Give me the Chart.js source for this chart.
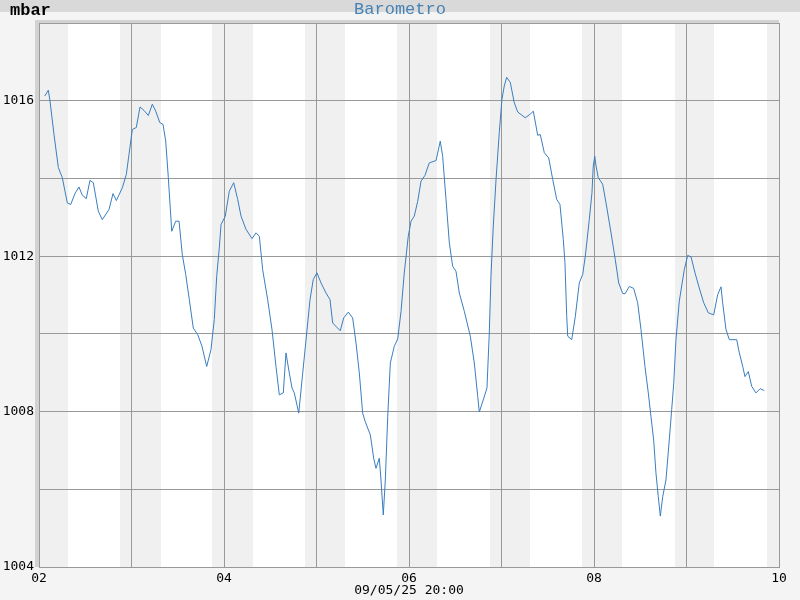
<!DOCTYPE html>
<html>
<head>
<meta charset="utf-8">
<script src="https://cdn.jsdelivr.net/npm/chart.js@4/dist/chart.umd.min.js"></script>
<style>
  html, body { margin: 0; padding: 0; background: #f4f4f4; }
  #wrap { width: 800px; height: 600px; }
</style>
</head>
<body>
<div id="wrap"><canvas id="chart" width="800" height="600"></canvas></div>
<script>
// Barometro - pressure over the week, x in days of the month
const title = "Barometro";
const unit = "mbar";
const stamp = "09/05/25 20:00";

const times = [
  2.062, 2.101, 2.119, 2.162, 2.209, 2.252, 2.281, 2.306, 2.343, 2.389,
  2.432, 2.468, 2.511, 2.551, 2.587, 2.641, 2.684, 2.757, 2.800, 2.836,
  2.901, 2.944, 2.973, 3.009, 3.052, 3.092, 3.135, 3.182, 3.225, 3.262,
  3.305, 3.341, 3.370, 3.398, 3.435, 3.478, 3.514, 3.549, 3.586, 3.625,
  3.668, 3.716, 3.762, 3.813, 3.859, 3.895, 3.921, 3.949, 3.968, 4.014,
  4.057, 4.105, 4.148, 4.184, 4.238, 4.303, 4.346, 4.382, 4.418, 4.472,
  4.519, 4.562, 4.598, 4.641, 4.670, 4.706, 4.735, 4.760, 4.808, 4.851,
  4.894, 4.930, 4.965, 5.005, 5.049, 5.103, 5.146, 5.175, 5.211, 5.257,
  5.294, 5.344, 5.391, 5.427, 5.463, 5.499, 5.527, 5.582, 5.618, 5.643,
  5.679, 5.697, 5.722, 5.744, 5.770, 5.798, 5.841, 5.878, 5.914, 5.949,
  5.992, 6.022, 6.057, 6.094, 6.130, 6.173, 6.219, 6.292, 6.338, 6.364,
  6.400, 6.436, 6.472, 6.508, 6.544, 6.598, 6.663, 6.706, 6.743, 6.760,
  6.803, 6.843, 6.868, 6.886, 6.911, 6.941, 6.976, 7.005, 7.030, 7.056,
  7.095, 7.138, 7.175, 7.257, 7.308, 7.344, 7.373, 7.391, 7.419, 7.463,
  7.510, 7.554, 7.597, 7.632, 7.668, 7.686, 7.705, 7.716, 7.759, 7.798,
  7.841, 7.878, 7.906, 7.949, 7.978, 7.992, 8.008, 8.022, 8.046, 8.094,
  8.130, 8.184, 8.230, 8.267, 8.310, 8.335, 8.382, 8.429, 8.472, 8.508,
  8.551, 8.587, 8.616, 8.645, 8.670, 8.695, 8.717, 8.743, 8.778, 8.814,
  8.840, 8.862, 8.886, 8.922, 8.976, 9.013, 9.049, 9.092, 9.138, 9.186,
  9.236, 9.294, 9.337, 9.373, 9.391, 9.427, 9.463, 9.543, 9.571, 9.608,
  9.632, 9.668, 9.705, 9.751, 9.797, 9.841
];

const pressure = [
  1016.12, 1016.27, 1015.99, 1015.13, 1014.28, 1014.02, 1013.67, 1013.37, 1013.33, 1013.61,
  1013.78, 1013.57, 1013.48, 1013.95, 1013.89, 1013.16, 1012.94, 1013.20, 1013.61, 1013.43,
  1013.76, 1014.10, 1014.62, 1015.26, 1015.31, 1015.84, 1015.75, 1015.62, 1015.91, 1015.73,
  1015.44, 1015.39, 1014.96, 1014.02, 1012.64, 1012.90, 1012.90, 1012.04, 1011.53, 1010.88,
  1010.15, 1009.98, 1009.68, 1009.16, 1009.59, 1010.37, 1011.48, 1012.21, 1012.81, 1013.03,
  1013.67, 1013.89, 1013.46, 1013.03, 1012.69, 1012.45, 1012.60, 1012.51, 1011.65, 1010.88,
  1010.11, 1009.16, 1008.43, 1008.48, 1009.51, 1008.99, 1008.61, 1008.48, 1007.96, 1008.99,
  1010.02, 1010.88, 1011.40, 1011.57, 1011.31, 1011.05, 1010.88, 1010.28, 1010.19, 1010.08,
  1010.41, 1010.56, 1010.41, 1009.77, 1008.99, 1007.96, 1007.74, 1007.40, 1006.80, 1006.54,
  1006.80, 1006.24, 1005.34, 1006.24, 1007.87, 1009.25, 1009.68, 1009.87, 1010.58, 1011.57,
  1012.51, 1012.90, 1013.03, 1013.41, 1013.93, 1014.08, 1014.40, 1014.46, 1014.96, 1014.57,
  1013.46, 1012.34, 1011.74, 1011.61, 1011.05, 1010.58, 1009.94, 1009.25, 1008.39, 1007.99,
  1008.30, 1008.61, 1010.02, 1011.48, 1012.77, 1013.97, 1015.18, 1016.04, 1016.38, 1016.60,
  1016.47, 1015.95, 1015.71, 1015.56, 1015.65, 1015.73, 1015.35, 1015.11, 1015.13, 1014.66,
  1014.53, 1013.97, 1013.46, 1013.33, 1012.43, 1011.83, 1010.45, 1009.94, 1009.85, 1010.45,
  1011.31, 1011.53, 1012.00, 1012.94, 1013.63, 1014.32, 1014.57, 1014.32, 1014.02, 1013.85,
  1013.37, 1012.60, 1011.91, 1011.31, 1011.04, 1011.03, 1011.22, 1011.17, 1010.80, 1010.11,
  1009.16, 1008.48, 1007.87, 1007.27, 1006.41, 1005.81, 1005.31, 1005.81, 1006.24, 1007.27,
  1008.05, 1008.73, 1009.85, 1010.84, 1011.65, 1012.02, 1011.98, 1011.57, 1011.18, 1010.80,
  1010.54, 1010.49, 1011.01, 1011.21, 1010.80, 1010.11, 1009.85, 1009.85, 1009.51, 1009.16,
  1008.90, 1009.03, 1008.65, 1008.48, 1008.59, 1008.54
];

// night hours (sunset -> sunrise), in days
const nights = [
  [2.0, 2.314], [2.876, 3.319], [3.870, 4.314], [4.876, 5.308], [5.870, 6.303],
  [6.876, 7.308], [7.870, 8.303], [8.876, 9.297], [9.870, 10.0]
];

const yLabelled = [1004, 1008, 1012, 1016];

const frame = {
  id: "frame",
  beforeDraw(chart) {
    const { ctx, chartArea: a, scales: { x } } = chart;
    ctx.save();
    ctx.fillStyle = "#f4f4f4";
    ctx.fillRect(0, 0, chart.width, chart.height);
    ctx.fillStyle = "#d9d9d9";
    ctx.fillRect(0, 0, chart.width, 12);
    ctx.fillStyle = "#d2d2d2";
    ctx.fillRect(a.left - 4, a.top - 3, a.right - a.left + 4, a.bottom - a.top + 3);
    ctx.fillStyle = "#ffffff";
    ctx.fillRect(a.left, a.top, a.right - a.left, a.bottom - a.top);
    ctx.fillStyle = "#f0f0f0";
    nights.forEach(([s, e]) => {
      const x0 = x.getPixelForValue(s), x1 = x.getPixelForValue(e);
      ctx.fillRect(x0, a.top, x1 - x0, a.bottom - a.top);
    });
    ctx.textBaseline = "alphabetic";
    ctx.fillStyle = "#000";
    ctx.font = "bold 17px 'Liberation Mono', monospace";
    ctx.textAlign = "left";
    ctx.fillText(unit, 10, 15);
    ctx.fillStyle = "#4682b4";
    ctx.font = "17px 'Liberation Mono', monospace";
    ctx.textAlign = "center";
    ctx.fillText(title, 400, 14);
    ctx.restore();
  },
};

const tickFont = { family: "'DejaVu Sans Mono', monospace", size: 13 };

new Chart(document.getElementById("chart"), {
  type: "line",
  data: {
    datasets: [{
      data: times.map((t, i) => ({ x: t, y: pressure[i] })),
      borderColor: "#3a7ebf",
      borderWidth: 1,
      pointRadius: 0,
      tension: 0,
      fill: false,
    }],
  },
  options: {
    responsive: false,
    animation: false,
    layout: { padding: { top: 23, right: 21, bottom: 0, left: 0 } },
    plugins: { legend: { display: false }, tooltip: { enabled: false } },
    scales: {
      x: {
        type: "linear",
        min: 2, max: 10,
        afterFit: (s) => { s.height = 33; },
        grid: { color: "#999", lineWidth: 1, drawTicks: false },
        border: { color: "#999" },
        ticks: {
          stepSize: 1, autoSkip: false, maxRotation: 0, padding: 4,
          color: "#000", font: tickFont,
          callback: (v) => (v % 2 === 0 ? String(v).padStart(2, "0") : ""),
        },
        title: {
          display: true, text: stamp, color: "#000", font: tickFont,
          padding: { top: 0, bottom: 2 },
        },
      },
      y: {
        min: 1004, max: 1018,
        afterFit: (s) => { s.width = 39; },
        grid: { color: "#999", lineWidth: 1, drawTicks: false },
        border: { color: "#999" },
        ticks: {
          stepSize: 2, autoSkip: false, padding: 5,
          color: "#000", font: tickFont,
          callback: (v) => (yLabelled.includes(v) ? String(v) : ""),
        },
      },
    },
  },
  plugins: [frame],
});
</script>
</body>
</html>
